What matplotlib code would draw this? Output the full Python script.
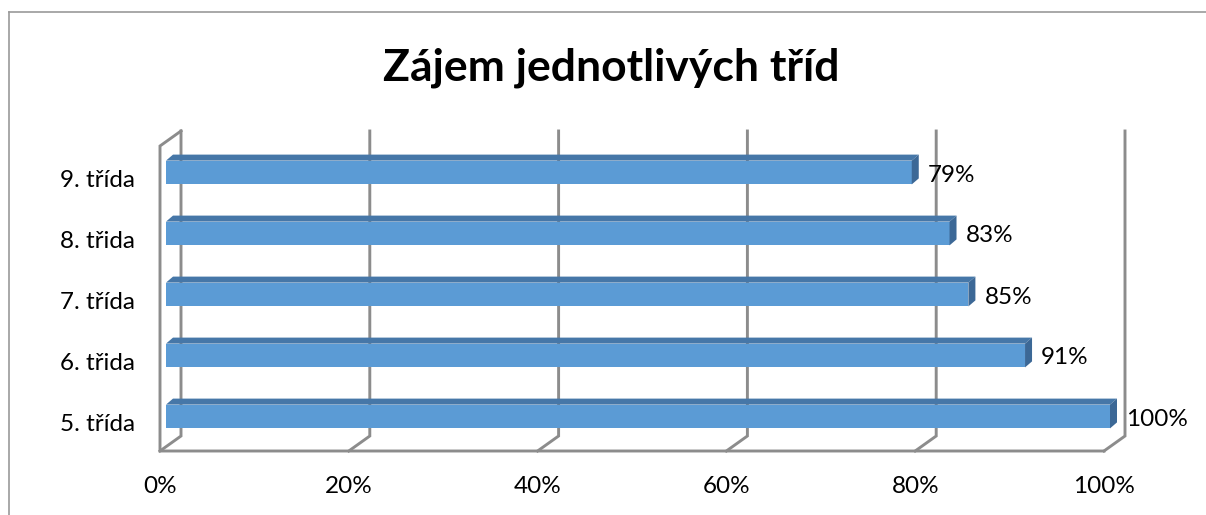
import matplotlib
matplotlib.use('Agg')
import matplotlib.pyplot as plt
from matplotlib.patches import Polygon
from matplotlib.lines import Line2D

# ---- data ----
categories = ['5. třída', '6. třida', '7. třída', '8. třida', '9. třída']
values = [100, 91, 85, 83, 79]
value_labels = ['100%', '91%', '85%', '83%', '79%']
xticks = [0, 20, 40, 60, 80, 100]
xtick_labels = ['0%', '20%', '40%', '60%', '80%', '100%']
title = 'Zájem jednotlivých tříd'

# ---- style ----
plt.rcParams['font.family'] = ['Lato', 'DejaVu Sans']
W, H = 1206, 515
fig = plt.figure(figsize=(W / 100, H / 100), dpi=100)
fig.patch.set_facecolor('white')

ax = fig.add_axes([166 / W, (H - 447) / H, 944 / W, 305 / H])
ax.set_xlim(0, 100)
ax.set_ylim(-0.5, 4.5)
ax.axis('off')

PX = 100 / 944   # data units per pixel (x)
PY = 5 / 305     # data units per pixel (y)
front = (-6 * PX, -4 * PY)
back = (15 * PX, 11 * PY)
y0, y1 = -0.5, 4.5

grid = dict(color='#8c8c8c', lw=2.1, solid_capstyle='projecting',
            solid_joinstyle='miter', clip_on=False, zorder=1)

# back wall gridlines + floor diagonals
for v in xticks:
    ax.plot([v + front[0], v + back[0], v + back[0]],
            [y0 + front[1], y0 + back[1], y1 + back[1]], **grid)
# floor front edge and left side wall
ax.plot([100 + front[0], front[0], front[0], back[0]],
        [y0 + front[1], y0 + front[1], y1 + front[1], y1 + back[1]], **grid)

# ---- bars ----
ypos = list(range(len(categories)))
h = 0.39
dx, dy = 7 * PX, 6 * PY
ax.barh(ypos, values, height=h, left=0, color='#5B9BD5', zorder=3)
for y, v in zip(ypos, values):
    top = Polygon([(0, y + h / 2), (v, y + h / 2), (v + dx, y + h / 2 + dy),
                   (dx, y + h / 2 + dy)], closed=True, facecolor='#4677A8',
                  edgecolor='none', zorder=3, clip_on=False)
    side = Polygon([(v, y - h / 2), (v, y + h / 2), (v + dx, y + h / 2 + dy),
                    (v + dx, y - h / 2 + dy)], closed=True, facecolor='#3C6896',
                   edgecolor='none', zorder=3, clip_on=False)
    ax.add_patch(top)
    ax.add_patch(side)

# ---- labels ----
fs = 17.5
for y, cat in zip(ypos, categories):
    ax.annotate(cat, xy=(0, y), xytext=(-31, -14.5), textcoords='offset pixels',
                ha='right', va='baseline', fontsize=fs, color='black',
                annotation_clip=False)
for y, v, lab in zip(ypos, values, value_labels):
    ax.annotate(lab, xy=(v, y), xytext=(16, -9), textcoords='offset pixels',
                ha='left', va='baseline', fontsize=fs, color='black',
                annotation_clip=False)
for v, lab in zip(xticks, xtick_labels):
    ax.annotate(lab, xy=(v + front[0], y0), xytext=(0, -46),
                textcoords='offset pixels', ha='center', va='baseline',
                fontsize=fs, color='black', annotation_clip=False)

fig.text(611 / W, (H - 81) / H, title, ha='center', va='baseline',
         fontsize=32, fontweight='bold', color='black')

# ---- chart border ----
bc = '#9a9a9a'
fig.add_artist(Line2D([8.5 / W, 8.5 / W], [0, (H - 11.5) / H], color=bc, lw=1.2,
                      transform=fig.transFigure))
fig.add_artist(Line2D([8.5 / W, 1], [(H - 11.5) / H] * 2, color=bc, lw=1.2,
                      transform=fig.transFigure))

fig.savefig('out.png', dpi=100, facecolor='white')
